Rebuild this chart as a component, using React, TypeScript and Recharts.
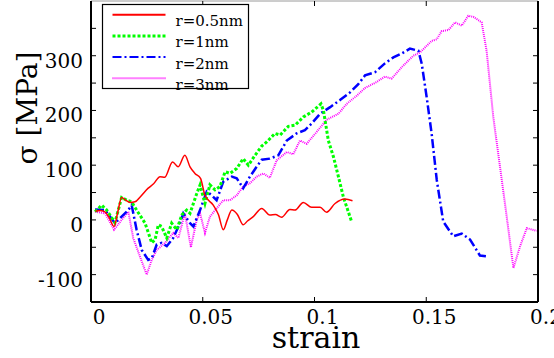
import React from "react";
import { LineChart, Line, XAxis, YAxis, Legend, ReferenceLine } from "recharts";

const seriesNames = ["r=0.5nm", "r=1nm", "r=2nm", "r=3nm"];
const seriesColors = ["#ff0000", "#00ff00", "#0000ff", "#ff00ff"];

const xTicks = [0, 0.05, 0.1, 0.15, 0.2];
const xInnerTicks = [0.05, 0.1, 0.15];
const yTicks = [-100, -50, 0, 50, 100, 150, 200, 250, 300, 350];
const xMax = 0.2;

const redStrain = [0.002,0.004,0.006,0.008,0.0103,0.012,0.0137,0.0155,0.0175,0.0197,0.022,0.0256,0.028,0.0309,0.033,0.0365,0.039,0.042,0.0443,0.0465,0.049,0.051,0.0547,0.057,0.0592,0.061,0.063,0.0655,0.0681,0.070,0.0726,0.0764,0.080,0.0825,0.0853,0.089,0.0913,0.095,0.0987,0.1025,0.1054,0.1092,0.1136,0.117];
const redStress = [16,17,15,5,-12,15,41,36,32,33,42,58,66,79,78,106,97,118,97,85,76,45,27,10,-18,0,18,10,-9,-2,6,21,9,10,5,19,18,32,23,23,14,30,38,35];

const greenStrain = [0.0018,0.0048,0.007,0.0107,0.0137,0.016,0.0182,0.0204,0.0242,0.0272,0.0287,0.0301,0.0316,0.0339,0.0361,0.0384,0.0406,0.0428,0.0443,0.0473,0.0488,0.051,0.0532,0.0555,0.0577,0.06,0.0622,0.0652,0.0681,0.0704,0.0734,0.0764,0.0785,0.0823,0.0846,0.0883,0.0913,0.095,0.0987,0.1029,0.104,0.1062,0.1085,0.1107,0.1129,0.1166];
const greenStress = [15,27,18,-5,41,36,33,18,-6,-42,-36,-9,-12,-33,-6,-18,9,18,12,48,64,30,64,55,61,88,85,94,112,100,118,135,142,158,155,171,173,188,197,212,200,145,115,79,42,-3];

const blueStrain = [0.0018,0.0063,0.0107,0.0137,0.0167,0.0182,0.0204,0.0227,0.0256,0.0272,0.0294,0.0316,0.0339,0.0368,0.0398,0.0413,0.0443,0.0458,0.0488,0.0518,0.054,0.0562,0.0592,0.063,0.0652,0.0681,0.0711,0.0741,0.0764,0.080,0.0838,0.0876,0.092,0.0957,0.0987,0.1025,0.107,0.1114,0.1159,0.1196,0.1226,0.1271,0.1315,0.1353,0.139,0.1427,0.1465,0.148,0.1502,0.1524,0.1547,0.1576,0.1621,0.1659,0.1696,0.174,0.1778];
const blueStress = [19,18,-6,6,18,27,-18,-55,-73,-70,-45,-42,-48,-33,-6,12,-6,-12,18,52,45,36,70,79,76,58,79,97,110,112,118,145,158,164,176,194,206,219,233,248,264,270,286,297,304,313,309,285,224,158,73,-3,-30,-25,-36,-65,-67];

const magentaStrain = [0.0018,0.0063,0.0103,0.0137,0.0167,0.0189,0.0219,0.0249,0.0272,0.0294,0.0331,0.0368,0.0391,0.042,0.0447,0.0473,0.0488,0.051,0.0532,0.0562,0.0592,0.0622,0.0652,0.0681,0.0711,0.0741,0.0771,0.080,0.0831,0.0876,0.0905,0.0935,0.0965,0.101,0.1054,0.1107,0.1144,0.1189,0.1226,0.1278,0.1315,0.1345,0.139,0.1442,0.1472,0.1524,0.1547,0.1569,0.16,0.1629,0.1659,0.1688,0.1711,0.1748,0.177,0.18,0.183,0.186,0.189,0.192,0.195,0.1994];
const magentaStress = [15,12,-18,0,15,-33,-67,-100,-73,-55,-42,-24,-33,12,-50,0,12,-24,6,21,36,36,45,61,67,79,85,77,109,124,120,145,139,161,183,194,212,227,241,252,262,258,279,300,306,327,330,345,347,361,355,373,371,361,309,188,97,6,-88,-48,-15,-20];

const zip = (xs: number[], ys: number[]) => xs.map((x, i) => ({ x, y: ys[i] }));
const redData = zip(redStrain, redStress);
const greenData = zip(greenStrain, greenStress);
const blueData = zip(blueStrain, blueStress);
const magentaData = zip(magentaStrain, magentaStress);

const FONT = "DejaVu Serif";
const dashes = [undefined, "3 2", "9 3 2 3", "1 1"];
const widths = [1.5, 3, 2.5, 2];

const LeftTick = (props: any) => {
  const { x, y, payload } = props;
  const v = payload.value;
  return (
    <g>
      <line x1={x} x2={x + 5} y1={y} y2={y} stroke="#000" strokeWidth={1} />
      {v % 100 === 0 && (
        <text x={x - 8} y={y + 5} dy="0.35em" textAnchor="end" fontFamily={FONT} fontSize={20} fill="#000">
          {String(v)}
        </text>
      )}
    </g>
  );
};

const RightTick = (props: any) => {
  const { x, y } = props;
  return <line x1={x} x2={x - 5} y1={y} y2={y} stroke="#000" strokeWidth={1} />;
};

const BottomTick = (props: any) => {
  const { x, y, payload } = props;
  const v = payload.value;
  const inner = v > 0.001 && v < 0.199;
  return (
    <g>
      {inner && <line x1={x} x2={x} y1={y} y2={y - 5} stroke="#000" strokeWidth={1} />}
      <text x={x + 8} y={y + 21.5} textAnchor="middle" fontFamily={FONT} fontSize={20} fill="#000">
        {String(v)}
      </text>
    </g>
  );
};

const TopTick = (props: any) => {
  const { x, y } = props;
  return <line x1={x} x2={x} y1={y} y2={y + 5} stroke="#000" strokeWidth={1} />;
};

const LegendBox = () => (
  <svg width={149} height={88} style={{ display: "block", overflow: "visible" }}>
    <rect x={0.5} y={0.5} width={146} height={84} fill="#fff" stroke="#000" strokeWidth={1.2} />
    {seriesNames.map((name, i) => {
      const ly = 10.7 + 21.2 * i;
      return (
        <g key={name}>
          <line x1={10.5} x2={63.5} y1={ly} y2={ly} stroke={seriesColors[i]} strokeWidth={i === 1 ? 3 : 2} strokeDasharray={dashes[i]} />
          <text x={73.5} y={ly + 11.5} fontFamily={FONT} fontSize={15} fill="#000">
            {name}
          </text>
        </g>
      );
    })}
  </svg>
);

export default function App() {
  return (
    <div style={{ position: "absolute", left: 0, top: 0, width: 554, height: 358, background: "#fff" }}>
      <LineChart width={554} height={358} margin={{ top: 0, right: 0, bottom: 0, left: 0 }}>
        <XAxis
          xAxisId="bottom"
          type="number"
          dataKey="x"
          domain={[0, xMax]}
          ticks={xTicks}
          interval={0}
          height={56}
          tickSize={0}
          tickMargin={0}
          tickLine={false}
          stroke="#000"
          axisLine={{ stroke: "#000", strokeWidth: 2 }}
          tick={<BottomTick />}
          allowDataOverflow
          label={{
            content: () => (
              <text x={316} y={348} textAnchor="middle" fontFamily={FONT} fontSize={30} fill="#000">
                strain
              </text>
            ),
          }}
        />
        <XAxis
          xAxisId="top"
          orientation="top"
          type="number"
          dataKey="x"
          domain={[0, xMax]}
          ticks={xInnerTicks}
          interval={0}
          height={1}
          tickSize={0}
          tickMargin={0}
          tickLine={false}
          stroke="#9a9a9a"
          axisLine={{ stroke: "#9a9a9a", strokeWidth: 1 }}
          tick={<TopTick />}
          allowDataOverflow
        />
        <YAxis
          yAxisId="left"
          type="number"
          domain={[-150, 400]}
          ticks={yTicks}
          interval={0}
          width={91}
          tickSize={0}
          tickMargin={0}
          tickLine={false}
          stroke="#000"
          axisLine={{ stroke: "#000", strokeWidth: 2 }}
          tick={<LeftTick />}
          allowDataOverflow
          label={{
            content: () => (
              <text
                x={37}
                y={108}
                textAnchor="middle"
                transform="rotate(-90 37 108)"
                fontFamily={FONT}
                fontSize={28}
                fill="#000"
              >
                σ [MPa]
              </text>
            ),
          }}
        />
        <YAxis
          yAxisId="right"
          orientation="right"
          type="number"
          domain={[-150, 400]}
          ticks={yTicks}
          interval={0}
          width={16}
          tickSize={0}
          tickMargin={0}
          tickLine={false}
          stroke="#000"
          axisLine={{ stroke: "#000", strokeWidth: 2 }}
          tick={<RightTick />}
          allowDataOverflow
        />
        <ReferenceLine xAxisId="bottom" yAxisId="left" x={xMax} stroke="#000" strokeWidth={2} ifOverflow="visible" />
        <Legend
          layout="horizontal"
          verticalAlign="middle"
          align="center"
          content={() => <LegendBox />}
          wrapperStyle={{ left: 101.5, top: 3.5, width: 149, height: 88 }}
        />
        <Line xAxisId="bottom" yAxisId="left" data={magentaData} dataKey="y" type="linear" stroke={seriesColors[3]} strokeWidth={widths[3]} strokeDasharray={dashes[3]} dot={false} isAnimationActive={false} name={seriesNames[3]} />
        <Line xAxisId="bottom" yAxisId="left" data={blueData} dataKey="y" type="linear" stroke={seriesColors[2]} strokeWidth={widths[2]} strokeDasharray={dashes[2]} dot={false} isAnimationActive={false} name={seriesNames[2]} />
        <Line xAxisId="bottom" yAxisId="left" data={greenData} dataKey="y" type="linear" stroke={seriesColors[1]} strokeWidth={widths[1]} strokeDasharray={dashes[1]} dot={false} isAnimationActive={false} name={seriesNames[1]} />
        <Line xAxisId="bottom" yAxisId="left" data={redData} dataKey="y" type="monotone" stroke={seriesColors[0]} strokeWidth={widths[0]} dot={false} isAnimationActive={false} name={seriesNames[0]} />
      </LineChart>
    </div>
  );
}
